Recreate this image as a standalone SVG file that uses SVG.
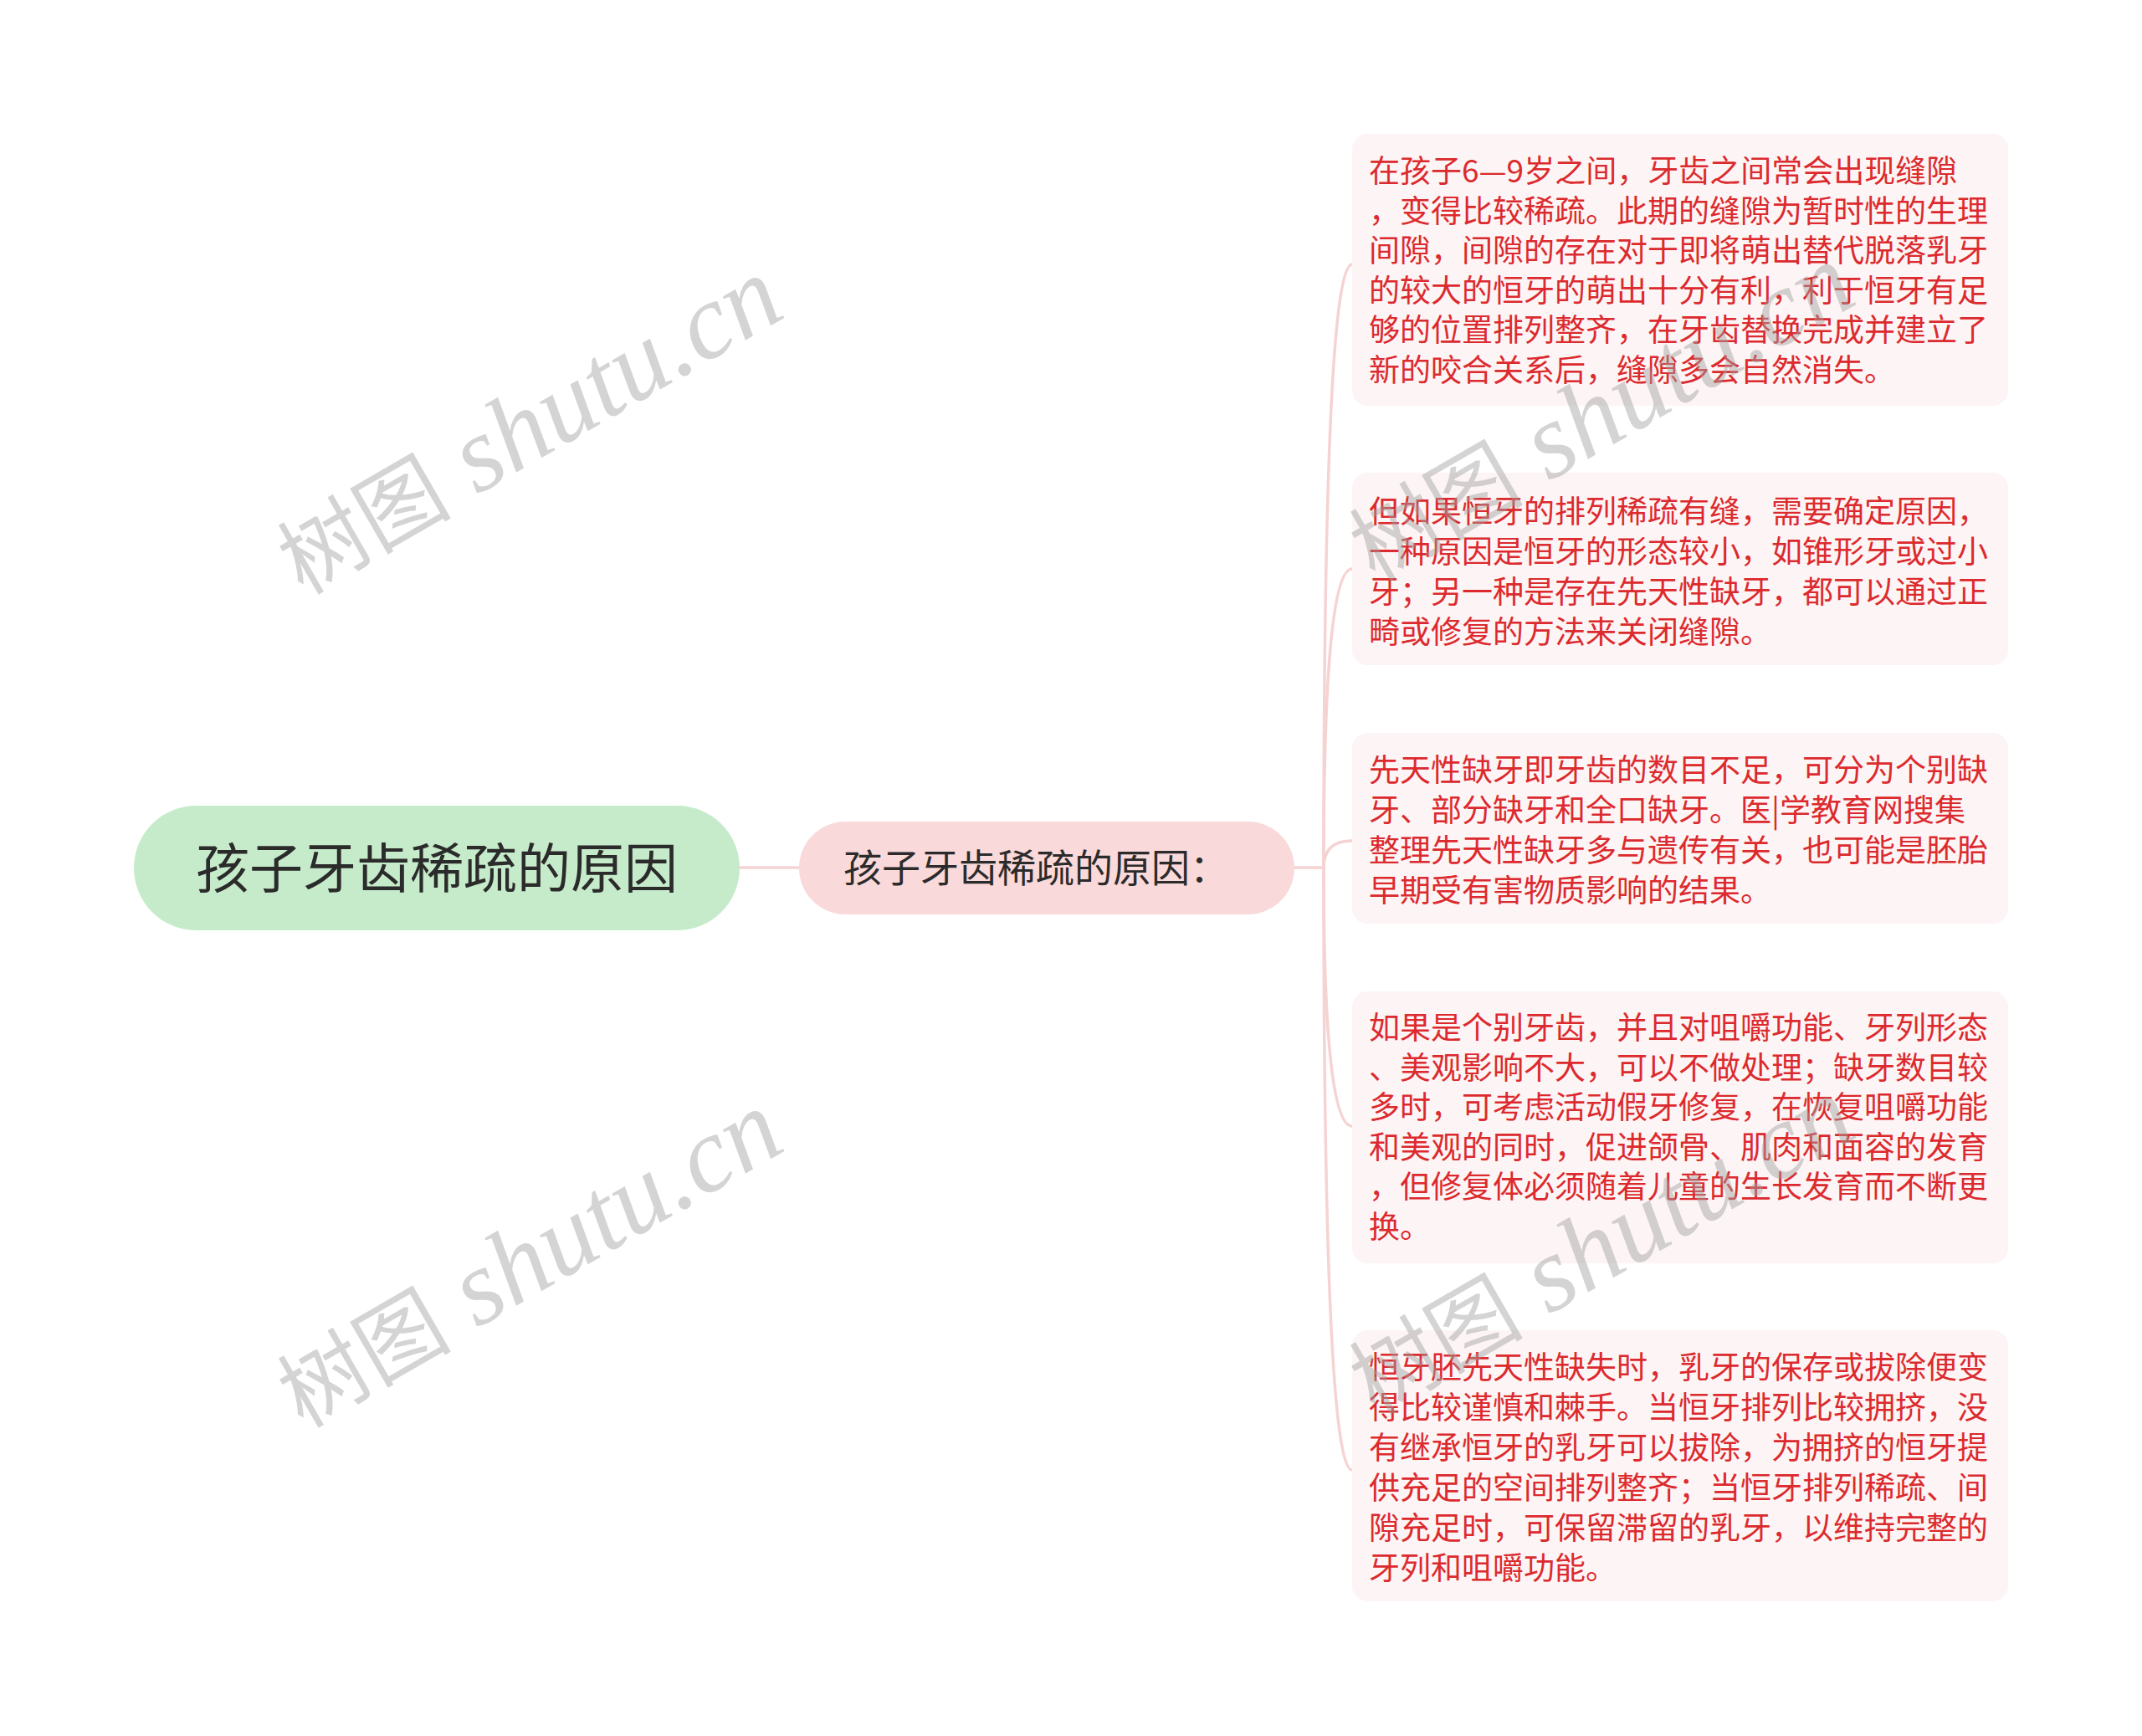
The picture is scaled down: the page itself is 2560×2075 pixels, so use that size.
<svg xmlns="http://www.w3.org/2000/svg" width="2560" height="2075" viewBox="0 0 2560 2075">
<style>
.conn{fill:none;stroke:#f6d3d3;stroke-width:3.5;stroke-linecap:round}
.leaf rect{fill:#fdf5f5}
.leaf text{font-family:"Noto Sans CJK SC","Noto Sans",sans-serif;font-size:37px;fill:#dc2a2e}
.wm{font-family:"Liberation Serif","Noto Sans CJK SC",serif;font-size:128px;fill:#a0a0a0;fill-opacity:0.45}
.wm .cj{font-size:104px}
.wm .la{font-style:italic}
</style>
<rect width="2560" height="2075" fill="#ffffff"/>
<g id="connectors">
<path class="conn" d="M884 1037 L955 1037"/>
<path class="conn" d="M1547 1037 L1582 1037"/>
<path class="conn" d="M1582 1037 Q1582 316 1616 316"/>
<path class="conn" d="M1582 1037 Q1582 680 1616 680"/>
<path class="conn" d="M1582 1037 Q1582 1005 1616 1005"/>
<path class="conn" d="M1582 1037 Q1582 1346 1616 1346"/>
<path class="conn" d="M1582 1037 Q1582 1757 1616 1757"/>
</g>
<g id="root">
<rect x="160" y="963" width="724" height="149" rx="74.5" fill="#c6ebca"/>
<text x="522" y="1061" text-anchor="middle" font-family="Noto Sans CJK SC, sans-serif" font-size="64" fill="#2b2b2b">孩子牙齿稀疏的原因</text>
</g>
<g id="sub">
<rect x="955" y="982" width="592" height="111" rx="55.5" fill="#fad9da"/>
<text x="1008" y="1054" font-family="Noto Sans CJK SC, sans-serif" font-size="46" fill="#2b2b2b">孩子牙齿稀疏的原因：</text>
</g>
<g id="leaf1" class="leaf">
<rect x="1616" y="160" width="784" height="325" rx="18"/>
<text x="1636"><tspan x="1636" y="218">在孩子6—9岁之间，牙齿之间常会出现缝隙</tspan><tspan x="1636" y="265.6">，变得比较稀疏。此期的缝隙为暂时性的生理</tspan><tspan x="1636" y="313.2">间隙，间隙的存在对于即将萌出替代脱落乳牙</tspan><tspan x="1636" y="360.8">的较大的恒牙的萌出十分有利，利于恒牙有足</tspan><tspan x="1636" y="408.4">够的位置排列整齐，在牙齿替换完成并建立了</tspan><tspan x="1636" y="456">新的咬合关系后，缝隙多会自然消失。</tspan></text>
</g>
<g id="leaf2" class="leaf">
<rect x="1616" y="565" width="784" height="230" rx="18"/>
<text x="1636"><tspan x="1636" y="625">但如果恒牙的排列稀疏有缝，需要确定原因，</tspan><tspan x="1636" y="673">一种原因是恒牙的形态较小，如锥形牙或过小</tspan><tspan x="1636" y="721">牙；另一种是存在先天性缺牙，都可以通过正</tspan><tspan x="1636" y="769">畸或修复的方法来关闭缝隙。</tspan></text>
</g>
<g id="leaf3" class="leaf">
<rect x="1616" y="876" width="784" height="228" rx="18"/>
<text x="1636"><tspan x="1636" y="934">先天性缺牙即牙齿的数目不足，可分为个别缺</tspan><tspan x="1636" y="982">牙、部分缺牙和全口缺牙。医|学教育网搜集</tspan><tspan x="1636" y="1030">整理先天性缺牙多与遗传有关，也可能是胚胎</tspan><tspan x="1636" y="1078">早期受有害物质影响的结果。</tspan></text>
</g>
<g id="leaf4" class="leaf">
<rect x="1616" y="1185" width="784" height="325" rx="18"/>
<text x="1636"><tspan x="1636" y="1242">如果是个别牙齿，并且对咀嚼功能、牙列形态</tspan><tspan x="1636" y="1289.6">、美观影响不大，可以不做处理；缺牙数目较</tspan><tspan x="1636" y="1337.2">多时，可考虑活动假牙修复，在恢复咀嚼功能</tspan><tspan x="1636" y="1384.8">和美观的同时，促进颌骨、肌肉和面容的发育</tspan><tspan x="1636" y="1432.4">，但修复体必须随着儿童的生长发育而不断更</tspan><tspan x="1636" y="1480">换。</tspan></text>
</g>
<g id="leaf5" class="leaf">
<rect x="1616" y="1590" width="784" height="324" rx="18"/>
<text x="1636"><tspan x="1636" y="1648">恒牙胚先天性缺失时，乳牙的保存或拔除便变</tspan><tspan x="1636" y="1696">得比较谨慎和棘手。当恒牙排列比较拥挤，没</tspan><tspan x="1636" y="1744">有继承恒牙的乳牙可以拔除，为拥挤的恒牙提</tspan><tspan x="1636" y="1792">供充足的空间排列整齐；当恒牙排列稀疏、间</tspan><tspan x="1636" y="1840">隙充足时，可保留滞留的乳牙，以维持完整的</tspan><tspan x="1636" y="1888">牙列和咀嚼功能。</tspan></text>
</g>
<g id="watermarks">
<text class="wm" transform="translate(362 712) rotate(-30)"><tspan class="cj">树图</tspan> <tspan class="la">shutu.cn</tspan></text>
<text class="wm" transform="translate(362 1708) rotate(-30)"><tspan class="cj">树图</tspan> <tspan class="la">shutu.cn</tspan></text>
<text class="wm" transform="translate(1643 696) rotate(-30)"><tspan class="cj">树图</tspan> <tspan class="la">shutu.cn</tspan></text>
<text class="wm" transform="translate(1643 1692) rotate(-30)"><tspan class="cj">树图</tspan> <tspan class="la">shutu.cn</tspan></text>
</g>
</svg>
